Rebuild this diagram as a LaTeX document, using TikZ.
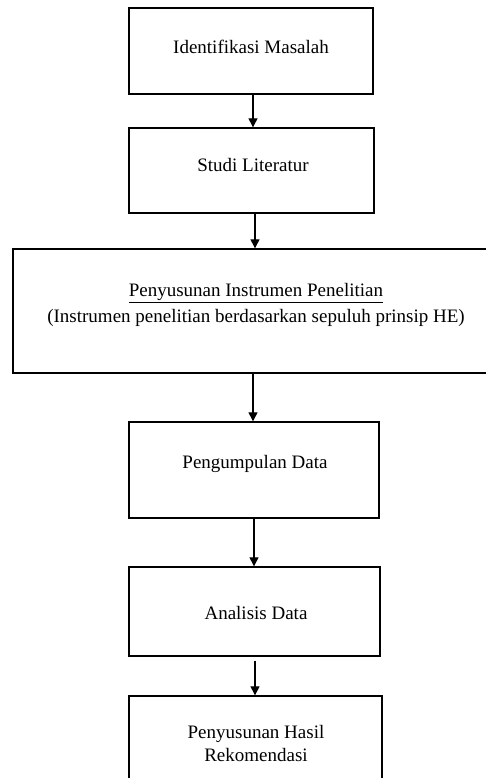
\documentclass[tikz,border=0pt]{standalone}
\usepackage{fontspec}
\setmainfont{Liberation Serif}
\usetikzlibrary{arrows.meta,calc}
\tikzset{
  stepbox/.style={draw, line width=1.4pt, rectangle, inner sep=0pt, font=\fontsize{19}{23}\selectfont, align=center},
  txt/.style={inner sep=0pt, font=\fontsize{19}{23}\selectfont, align=center},
  flow/.style={line width=1.3pt, -{Triangle[width=9pt,length=9pt]}}
}
\begin{document}
\begin{tikzpicture}[x=1pt,y=-1pt]
\useasboundingbox (0,0) rectangle (486,778);
\clip (0,0) rectangle (486,778);
\node[stepbox, minimum width=244pt, minimum height=86pt] (b1) at (251,51) {};
\node[txt] (t1) at (251,47) {Identifikasi Masalah};
\node[stepbox, minimum width=245pt, minimum height=85pt] (b2) at (251.5,170.5) {};
\node[txt] (t2) at (253,165) {Studi Literatur};
\node[stepbox, minimum width=500pt, minimum height=124pt] (b3) at (263,311) {};
\node[txt, font=\fontsize{19}{26}\selectfont] (t3) at (256,305) {\underline{Penyusunan Instrumen Penelitian}\\(Instrumen penelitian berdasarkan sepuluh prinsip HE)};
\node[stepbox, minimum width=250pt, minimum height=96pt] (b4) at (254,470) {};
\node[txt] (t4) at (255,464) {Pengumpulan Data};
\node[stepbox, minimum width=251pt, minimum height=89pt] (b5) at (254.5,611.5) {};
\node[txt] (t5) at (256,613) {Analisis Data};
\node[stepbox, minimum width=253pt, minimum height=120pt] (b6) at (255.5,756) {};
\node[txt] (t6) at (256,743.5) {Penyusunan Hasil\\Rekomendasi};
\draw[flow] ($(b1.south)+(2,0)$) coordinate (a1) -- (a1 |- b2.north);
\draw[flow] ($(b2.south)+(3.5,0)$) coordinate (a2) -- (a2 |- b3.north);
\draw[flow] ($(b3.south -| b4.north)+(-1,0)$) coordinate (a3) -- (a3 |- b4.north);
\draw[flow] (b4.south) -- (b4.south |- b5.north);
\draw[flow] ($(b5.south)+(0.5,4)$) coordinate (a5) -- (a5 |- b6.north);
\end{tikzpicture}
\end{document}
